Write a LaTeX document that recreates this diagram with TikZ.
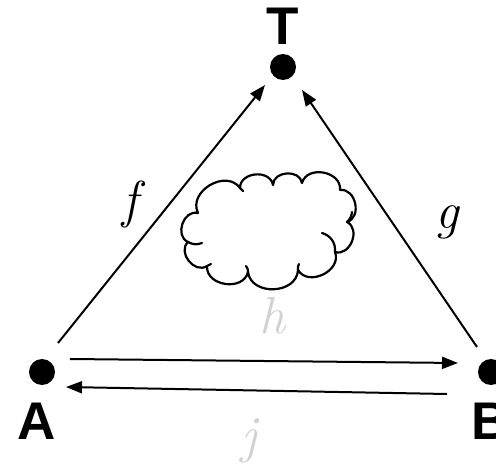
\documentclass[tikz,border=0pt]{standalone}
\usepackage{fontspec}
\setsansfont{Liberation Sans}
\newfontfamily\lmr{Latin Modern Roman}
\usetikzlibrary{arrows.meta}
\begin{document}
\begin{tikzpicture}[x=1pt,y=-1pt,
  dot/.style={circle,fill=black,inner sep=0pt,minimum size=26pt},
  vlabel/.style={font=\sffamily\bfseries\fontsize{53}{53}\selectfont,inner sep=0pt,anchor=base},
  elabel/.style={font=\lmr\itshape\fontsize{52}{52}\selectfont,inner sep=0pt},
  faint/.style={text=black!18},
  arr/.style={line width=2pt,-{Triangle[length=16pt,width=12pt]}},
  cloudline/.style={line width=2.2pt,line join=round,line cap=round},
  bump/.style={bend right=85,looseness=1.25}]
\useasboundingbox (0,0) rectangle (496,470);
\node[dot] (A) at (42,372) {};
\node[dot] (B) at (491,372) {};
\node[dot] (T) at (283,67) {};
\node[vlabel] (lA) at (37,440) {A};
\node[vlabel] (lB) at (491,440) {B};
\node[vlabel] (lT) at (283,45) {T};
\coordinate (fs) at (58,343);
\coordinate (fe) at (265,85);
\coordinate (gs) at (477,347);
\coordinate (ge) at (302,90);
\coordinate (hs) at (70,359);
\coordinate (he) at (458,363);
\coordinate (js) at (447,394);
\coordinate (je) at (66,387);
\draw[arr] (fs) -- (fe);
\draw[arr] (gs) -- (ge);
\draw[arr] (hs) -- (he);
\draw[arr] (js) -- (je);
\node[elabel] (lf) at (130,205) {f};
\node[elabel] (lg) at (447,222) {g};
\node[elabel,faint] (lh) at (272,316) {h};
\node[elabel,faint] (lj) at (249,441) {j};
% cloud
\coordinate (J1) at (198,213);
\coordinate (J2) at (188,242);
\coordinate (J3) at (207,266);
\coordinate (J4) at (248,272);
\coordinate (J5) at (298,270);
\coordinate (J6) at (335,252);
\coordinate (J7) at (347,222);
\coordinate (J8) at (340,190);
\coordinate (J9) at (302,183);
\coordinate (J10) at (273,185);
\coordinate (J11) at (240,188);
\draw[cloudline] (J1) to[bump] (J2) to[bump] (J3) to[bump] (J4) to[bump] (J5)
  to[bump] (J6) to[bump] (J7) to[bump] (J8) to[bump] (J9) to[bump] (J10)
  to[bump] (J11) to[bump] cycle;
\coordinate (K6) at (322,233);
\coordinate (K2) at (202,243);
\coordinate (K7) at (352,212);
\coordinate (K3) at (211,264);
\coordinate (K5) at (299,264);
\coordinate (K4) at (246,266);
\coordinate (K11) at (243,191);
\draw[cloudline] (J6) to[bend right=40] (K6);
\draw[cloudline] (J2) to[bend right=25] (K2);
\draw[cloudline] (J7) to[bend right=20] (K7);
\draw[cloudline] (J3) to[bend right=20] (K3);
\draw[cloudline] (J5) to[bend left=20] (K5);
\draw[cloudline] (J4) to[bend right=20] (K4);
\draw[cloudline] (J11) to[bend left=20] (K11);
\end{tikzpicture}
\end{document}
